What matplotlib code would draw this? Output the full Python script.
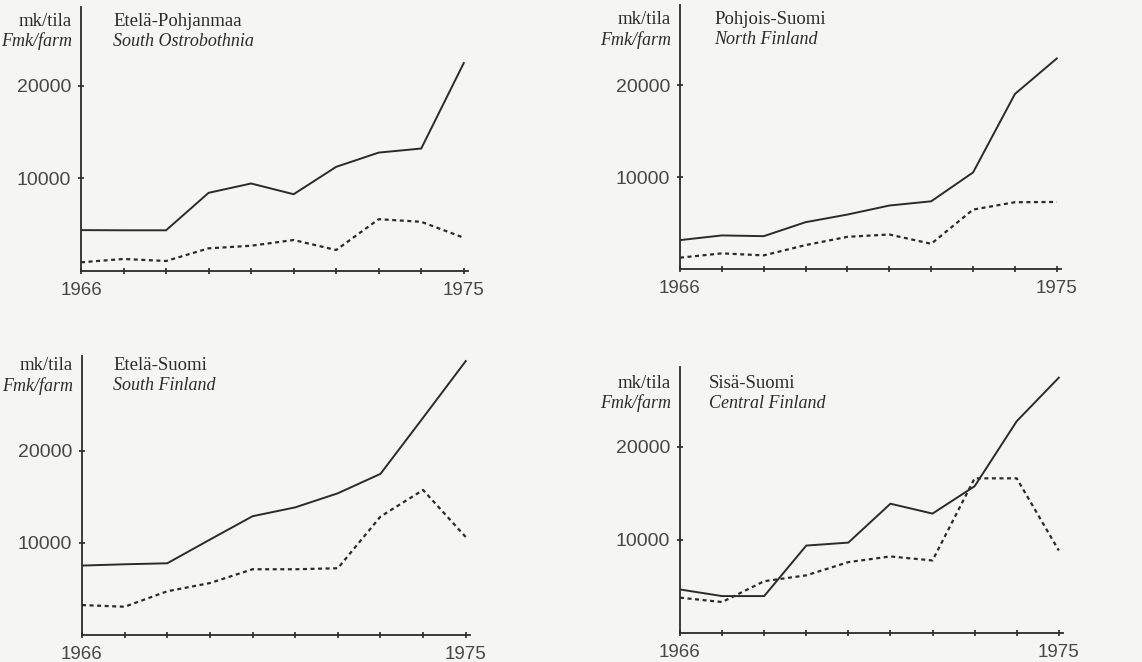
import matplotlib
matplotlib.use("Agg")
import matplotlib.pyplot as plt

# vuodet / years
years = list(range(1966, 1976))

# Etelä-Pohjanmaa
ep_solid = [4420, 4400, 4400, 8450, 9460, 8300, 11260, 12800, 13240, 22480]
ep_dot = [940, 1300, 1080, 2450, 2730, 3350, 2270, 5600, 5320, 3600]

# Pohjois-Suomi
ps_solid = [3140, 3650, 3570, 5090, 5920, 6900, 7360, 10500, 19030, 22890]
ps_dot = [1230, 1700, 1480, 2600, 3500, 3750, 2740, 6460, 7260, 7290]

# Etelä-Suomi
es_solid = [7540, 7680, 7790, 10360, 12900, 13860, 15390, 17500, 23600, 29750]
es_dot = [3250, 3070, 4750, 5640, 7140, 7140, 7250, 12860, 15750, 10640]

# Sisä-Suomi
ss_solid = [4680, 3970, 3970, 9400, 9720, 13900, 12840, 15780, 22770, 27450]
ss_dot = [3800, 3330, 5570, 6200, 7620, 8230, 7800, 16630, 16630, 8870]

names_fi = ["Etelä-Pohjanmaa", "Pohjois-Suomi", "Etelä-Suomi", "Sisä-Suomi"]
names_en = ["South Ostrobothnia", "North Finland", "South Finland", "Central Finland"]
solids = [ep_solid, ps_solid, es_solid, ss_solid]
dots = [ep_dot, ps_dot, es_dot, ss_dot]

W, H = 1142, 662
bg = "#f5f5f3"
ink = "#2b2b2b"

fig = plt.figure(figsize=(W / 100, H / 100), dpi=100, facecolor=bg)

# pixel boxes: x0, x1, y bottom, y top, ymax, text offset, name offset
boxes = [
    (81, 468, 271, 7, 28540, 14, 32),
    (680, 1061, 269, 5, 28700, 15, 34),
    (82, 470, 635, 356, 30300, 10, 31),
    (680, 1063, 633, 367, 28600, 16, 29),
]

for i in range(4):
    x0, x1, yb, yt, ymax, toff, noff = boxes[i]
    ax = fig.add_axes([x0 / W, (H - yb) / H, (x1 - x0) / W, (yb - yt) / H])
    ax.set_facecolor("none")
    ax.plot(years, solids[i], color=ink, lw=1.4, solid_joinstyle="miter")
    ax.plot(years, dots[i], color=ink, lw=1.6, linestyle=(0, (1.8, 1.6)))
    ax.set_xlim(1966, 1975.1)
    ax.set_ylim(0, ymax)
    for s in ["top", "right"]:
        ax.spines[s].set_visible(False)
    for s in ["left", "bottom"]:
        ax.spines[s].set_color(ink)
        ax.spines[s].set_linewidth(1.3)
    ax.set_xticks(years)
    ax.set_xticklabels(["1966"] + [""] * 8 + ["1975"])
    ax.set_yticks([10000, 20000])
    ax.set_yticklabels(["10000", "20000"])
    ax.tick_params(axis="both", direction="inout", length=4, width=1.2, color=ink)
    ax.tick_params(axis="x", labelsize=13.5, labelcolor="#474747", pad=6)
    ax.tick_params(axis="y", labelsize=14, labelcolor="#474747", pad=5)
    for lab in ax.get_xticklabels() + ax.get_yticklabels():
        lab.set_family("Liberation Sans")

    # unit and region labels
    ty1 = (H - (yt + toff)) / H
    ty2 = (H - (yt + toff + 20)) / H
    fig.text((x0 - 9) / W, ty1, "mk/tila", ha="right", va="center",
             family="Liberation Serif", fontsize=13.5, color=ink)
    fig.text((x0 - 9) / W, ty2, "Fmk/farm", ha="right", va="center",
             family="Liberation Serif", style="italic", fontsize=13, color=ink)
    fig.text((x0 + noff) / W, ty1, names_fi[i], ha="left", va="center",
             family="Liberation Serif", fontsize=13.5, color=ink)
    fig.text((x0 + noff) / W, ty2, names_en[i], ha="left", va="center",
             family="Liberation Serif", style="italic", fontsize=13, color=ink)

fig.savefig("out.png", dpi=100, facecolor=bg)
